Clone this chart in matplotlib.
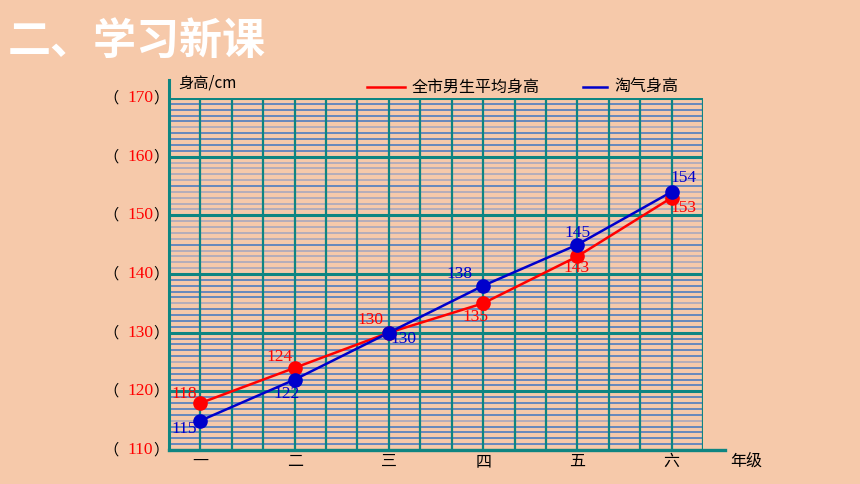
import matplotlib.pyplot as plt
import numpy as np

plt.rcParams['font.family'] = ['Noto Sans CJK SC', 'DejaVu Sans']

grades = ['一', '二', '三', '四', '五', '六']
city_avg = [118, 124, 130, 135, 143, 153]
taoqi = [115, 122, 130, 138, 145, 154]
y_ticks = [110, 120, 130, 140, 150, 160, 170]

bg = '#f6c9aa'
teal = '#0e8582'
red = '#ff0000'
blue = '#0000cc'
grid_blue = '#4076c2'
grid_gray = '#a2a5c0'

fig = plt.figure(figsize=(8.6, 4.84), dpi=100, facecolor=bg)
ax = fig.add_axes([169 / 860, 34 / 484, 534 / 860, 352 / 484])
ax.set_facecolor(bg)
ax.set_xlim(0, 17)
ax.set_ylim(110, 170)
for s in ax.spines.values():
    s.set_visible(False)
ax.set_xticks([])
ax.set_yticks([])

# 网格：细线（140-160 两格以灰线为主）
for k in range(1, 60):
    if k % 10 == 0:
        continue
    v = 110 + k
    gray_band = 140 < v < 160
    mid = k % 10 == 5
    c = grid_blue if gray_band == mid else grid_gray
    ax.axhline(v, color=c, lw=1.1, zorder=1)
for v in range(1, 18):
    ax.axvline(v, color=teal, lw=1.6, zorder=2)
for t in y_ticks:
    ax.axhline(t, color=teal, lw=2.2, zorder=2)

# 坐标轴（左、下伸出）
ax.plot([0, 0], [0, 1.05], transform=ax.transAxes, color=teal, lw=2.2, clip_on=False, zorder=3)
ax.plot([0, 1.042], [0, 0], transform=ax.transAxes, color=teal, lw=2.4, clip_on=False, zorder=3)

x = np.arange(len(grades)) * 3 + 1
ax.plot(x, city_avg, color=red, lw=1.8, zorder=4)
ax.plot(x, taoqi, color=blue, lw=1.8, zorder=4)
ax.plot(x, city_avg, 'o', color=red, ms=9.5, zorder=5, clip_on=False)
ax.plot(x, taoqi, 'o', color=blue, ms=9.5, zorder=6, clip_on=False)

# 数据标签偏移（像素）
red_off = [(-16, 9), (-15, 11), (-18, 13), (-8, -14), (-1, -12), (12, -10)]
blue_off = [(-16, -8), (-8, -14), (15, -6), (-24, 12), (0, 12), (12, 14)]
serif = dict(family='Liberation Serif', fontsize=12.5)
for xi, v, (dx, dy) in zip(x, city_avg, red_off):
    ax.annotate(str(v), (xi, v), xytext=(dx * 0.72, dy * 0.72), textcoords='offset points',
                ha='center', va='center', color=red, zorder=7, **serif)
for xi, v, (dx, dy) in zip(x, taoqi, blue_off):
    ax.annotate(str(v), (xi, v), xytext=(dx * 0.72, dy * 0.72), textcoords='offset points',
                ha='center', va='center', color=blue, zorder=7, **serif)

# y 轴刻度文字
ytr = ax.get_yaxis_transform()
for t in y_ticks:
    ax.text(-0.108, t, '（', transform=ytr, ha='center', va='center', fontsize=11, color='black')
    ax.text(-0.054, t, str(t), transform=ytr, ha='center', va='center', color=red, **serif)
    ax.text(-0.016, t, '）', transform=ytr, ha='center', va='center', fontsize=11, color='black')

# x 轴刻度文字
xtr = ax.get_xaxis_transform()
for xi, g in zip(x, grades):
    ax.text(xi, -0.033, g, transform=xtr, ha='center', va='center', fontsize=11.5, color='black')
ax.text(1.08, -0.033, '年级', transform=ax.transAxes, ha='center', va='center', fontsize=11.5)
fig.text(178 / 860, 1 - 83 / 484, '身高/cm', ha='left', va='center', fontsize=11)

# 图例
ly = 1 - 87 / 484
fig.add_artist(plt.Line2D([367 / 860, 405 / 860], [ly, ly], color=red, lw=1.8))
fig.text(412 / 860, ly, '全市男生平均身高', ha='left', va='center', fontsize=11.5)
fig.add_artist(plt.Line2D([583 / 860, 607 / 860], [ly, ly], color=blue, lw=1.8))
fig.text(614 / 860, ly, '淘气身高', ha='left', va='center', fontsize=11.5)

fig.text(8 / 860, 1 - 41 / 484, '二、学习新课', ha='left', va='center', fontsize=31,
         fontweight='bold', color='white')

fig.savefig('out.png', dpi=100, facecolor=bg)
